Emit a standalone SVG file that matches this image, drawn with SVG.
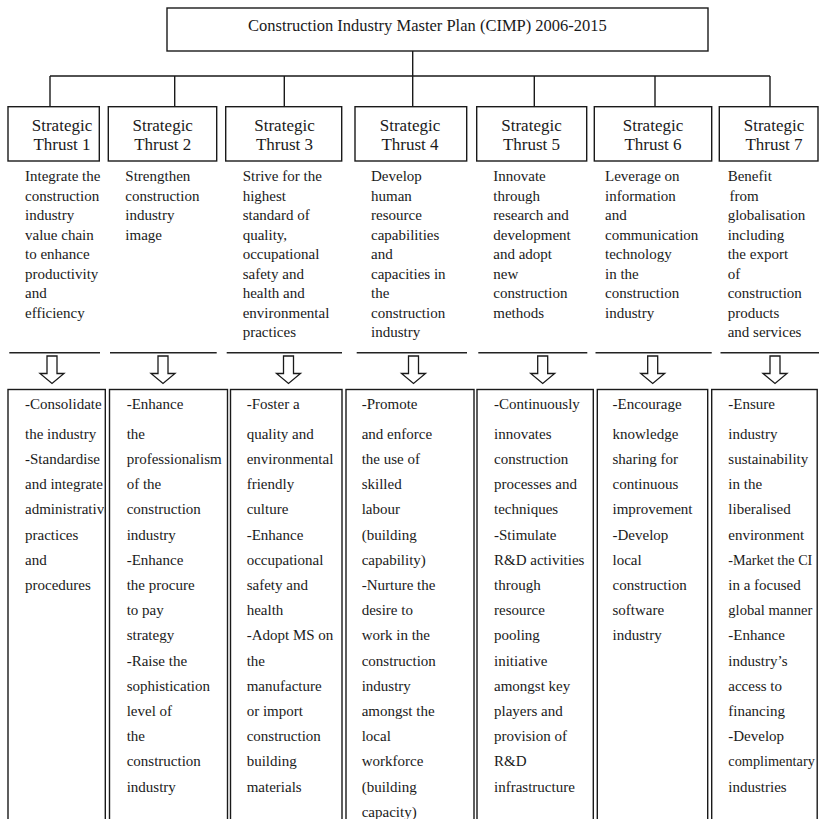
<svg xmlns="http://www.w3.org/2000/svg" width="819" height="819" viewBox="0 0 819 819">
<style>
.box{fill:#fff;stroke:#1a1a1a;stroke-width:1.4}
.ln{fill:none;stroke:#1a1a1a;stroke-width:1.4}
.sep{fill:none;stroke:#222;stroke-width:1.6}
.arr{fill:#fff;stroke:#1a1a1a;stroke-width:1.3}
text{font-family:"Liberation Serif","Times New Roman",serif;fill:#1a1a1a}
.t{font-size:16.5px}
.h{font-size:17px;text-anchor:middle}
.d{font-size:15px}
</style>
<defs>
<path id="ar" d="M-5,356 H5 V373.5 H12 L0,383.5 L-12,373.5 H-5 Z"/>
<clipPath id="c1"><rect x="8" y="389" width="96.5" height="440"/></clipPath>
</defs>
<rect width="819" height="819" fill="#fff"/>

<g id="connectors">
<path class="ln" d="M412.7,51 V107 M50,76 H770 M50,76 V107 M174.7,76 V107 M284.3,76 V107 M534.3,76 V107 M655,76 V107 M770,76 V107"/>
<path class="sep" d="M9.3,352.7 H100 M110,352.7 H216.7 M226.7,352.7 H342 M356.7,352.7 H467 M478.3,352.7 H587.3 M595.5,352.7 H711.7 M720.5,352.7 H819"/>
<use href="#ar" class="arr" x="52"/>
<use href="#ar" class="arr" x="163"/>
<use href="#ar" class="arr" x="288.5"/>
<use href="#ar" class="arr" x="413.5"/>
<use href="#ar" class="arr" x="542.7"/>
<use href="#ar" class="arr" x="652.7"/>
<use href="#ar" class="arr" x="775"/>
</g>

<g id="title">
<rect class="box" x="167" y="8" width="541" height="43"/>
<text class="t" x="248" y="31">Construction Industry Master Plan (CIMP) 2006-2015</text>
</g>

<g id="thrust1">
<rect class="box" x="8" y="106.7" width="91.3" height="54.3"/>
<text class="h" x="62" y="131">Strategic</text>
<text class="h" x="62" y="149.5">Thrust 1</text>
<text class="d" x="25"><tspan x="25" y="181">Integrate the</tspan><tspan x="25" y="200.5">construction</tspan><tspan x="25" y="220">industry</tspan><tspan x="25" y="239.5">value chain</tspan><tspan x="25" y="259">to enhance</tspan><tspan x="25" y="278.5">productivity</tspan><tspan x="25" y="298">and</tspan><tspan x="25" y="317.5">efficiency</tspan></text>
</g>
<g id="thrust2">
<rect class="box" x="108.3" y="106.7" width="108.4" height="54.3"/>
<text class="h" x="162.7" y="131">Strategic</text>
<text class="h" x="162.7" y="149.5">Thrust 2</text>
<text class="d"><tspan x="125.3" y="181">Strengthen</tspan><tspan x="125.3" y="200.5">construction</tspan><tspan x="125.3" y="220">industry</tspan><tspan x="125.3" y="239.5">image</tspan></text>
</g>
<g id="thrust3">
<rect class="box" x="225.7" y="106.7" width="116" height="54.3"/>
<text class="h" x="284.5" y="131">Strategic</text>
<text class="h" x="284.5" y="149.5">Thrust 3</text>
<text class="d"><tspan x="242.7" y="181">Strive for the</tspan><tspan x="242.7" y="200.5">highest</tspan><tspan x="242.7" y="220">standard of</tspan><tspan x="242.7" y="239.5">quality,</tspan><tspan x="242.7" y="259">occupational</tspan><tspan x="242.7" y="278.5">safety and</tspan><tspan x="242.7" y="298">health and</tspan><tspan x="242.7" y="317.5">environmental</tspan><tspan x="242.7" y="337">practices</tspan></text>
</g>
<g id="thrust4">
<rect class="box" x="355" y="106.7" width="111.7" height="54.3"/>
<text class="h" x="410" y="131">Strategic</text>
<text class="h" x="410" y="149.5">Thrust 4</text>
<text class="d"><tspan x="371" y="181">Develop</tspan><tspan x="371" y="200.5">human</tspan><tspan x="371" y="220">resource</tspan><tspan x="371" y="239.5">capabilities</tspan><tspan x="371" y="259">and</tspan><tspan x="371" y="278.5">capacities in</tspan><tspan x="371" y="298">the</tspan><tspan x="371" y="317.5">construction</tspan><tspan x="371" y="337">industry</tspan></text>
</g>
<g id="thrust5">
<rect class="box" x="476.7" y="106.7" width="110" height="54.3"/>
<text class="h" x="531.5" y="131">Strategic</text>
<text class="h" x="531.5" y="149.5">Thrust 5</text>
<text class="d"><tspan x="493.3" y="181">Innovate</tspan><tspan x="493.3" y="200.5">through</tspan><tspan x="493.3" y="220">research and</tspan><tspan x="493.3" y="239.5">development</tspan><tspan x="493.3" y="259">and adopt</tspan><tspan x="493.3" y="278.5">new</tspan><tspan x="493.3" y="298">construction</tspan><tspan x="493.3" y="317.5">methods</tspan></text>
</g>
<g id="thrust6">
<rect class="box" x="594.3" y="106.7" width="117.4" height="54.3"/>
<text class="h" x="653" y="131">Strategic</text>
<text class="h" x="653" y="149.5">Thrust 6</text>
<text class="d"><tspan x="605" y="181">Leverage on</tspan><tspan x="605" y="200.5">information</tspan><tspan x="605" y="220">and</tspan><tspan x="605" y="239.5">communication</tspan><tspan x="605" y="259">technology</tspan><tspan x="605" y="278.5">in the</tspan><tspan x="605" y="298">construction</tspan><tspan x="605" y="317.5">industry</tspan></text>
</g>
<g id="thrust7">
<rect class="box" x="719.3" y="106.7" width="98.7" height="54.3"/>
<text class="h" x="774" y="131">Strategic</text>
<text class="h" x="774" y="149.5">Thrust 7</text>
<text class="d"><tspan x="727.7" y="181">Benefit</tspan><tspan x="729.5" y="200.5">from</tspan><tspan x="727.7" y="220">globalisation</tspan><tspan x="727.7" y="239.5">including</tspan><tspan x="727.7" y="259">the export</tspan><tspan x="727.7" y="278.5">of</tspan><tspan x="727.7" y="298">construction</tspan><tspan x="727.7" y="317.5">products</tspan><tspan x="727.7" y="337">and services</tspan></text>
</g>

<g id="detail1">
<rect class="box" x="8" y="389.5" width="97.3" height="440"/>
<text class="d" clip-path="url(#c1)"><tspan x="25" y="408.5">-Consolidate</tspan><tspan x="25" y="439">the industry</tspan><tspan x="25" y="464">-Standardise</tspan><tspan x="25" y="489.2">and integrate</tspan><tspan x="25" y="514.4">administrative</tspan><tspan x="25" y="539.6">practices</tspan><tspan x="25" y="564.8">and</tspan><tspan x="25" y="590">procedures</tspan></text>
</g>
<g id="detail2">
<rect class="box" x="109.5" y="389.5" width="118" height="440"/>
<text class="d"><tspan x="126.7" y="408.5">-Enhance</tspan><tspan x="126.7" y="439">the</tspan><tspan x="126.7" y="464">professionalism</tspan><tspan x="126.7" y="489.2">of the</tspan><tspan x="126.7" y="514.4">construction</tspan><tspan x="126.7" y="539.6">industry</tspan><tspan x="126.7" y="564.8">-Enhance</tspan><tspan x="126.7" y="590">the procure</tspan><tspan x="126.7" y="615.2">to pay</tspan><tspan x="126.7" y="640.4">strategy</tspan><tspan x="126.7" y="665.6">-Raise the</tspan><tspan x="126.7" y="690.8">sophistication</tspan><tspan x="126.7" y="716">level of</tspan><tspan x="126.7" y="741.2">the</tspan><tspan x="126.7" y="766.4">construction</tspan><tspan x="126.7" y="791.6">industry</tspan></text>
</g>
<g id="detail3">
<rect class="box" x="230.5" y="389.5" width="111.5" height="440"/>
<text class="d"><tspan x="246.7" y="408.5">-Foster a</tspan><tspan x="246.7" y="439">quality and</tspan><tspan x="246.7" y="464">environmental</tspan><tspan x="246.7" y="489.2">friendly</tspan><tspan x="246.7" y="514.4">culture</tspan><tspan x="246.7" y="539.6">-Enhance</tspan><tspan x="246.7" y="564.8">occupational</tspan><tspan x="246.7" y="590">safety and</tspan><tspan x="246.7" y="615.2">health</tspan><tspan x="246.7" y="640.4">-Adopt MS on</tspan><tspan x="246.7" y="665.6">the</tspan><tspan x="246.7" y="690.8">manufacture</tspan><tspan x="246.7" y="716">or import</tspan><tspan x="246.7" y="741.2">construction</tspan><tspan x="246.7" y="766.4">building</tspan><tspan x="246.7" y="791.6">materials</tspan></text>
</g>
<g id="detail4">
<rect class="box" x="346" y="389.5" width="128" height="440"/>
<text class="d"><tspan x="361.7" y="408.5">-Promote</tspan><tspan x="361.7" y="439">and enforce</tspan><tspan x="361.7" y="464">the use of</tspan><tspan x="361.7" y="489.2">skilled</tspan><tspan x="361.7" y="514.4">labour</tspan><tspan x="361.7" y="539.6">(building</tspan><tspan x="361.7" y="564.8">capability)</tspan><tspan x="361.7" y="590">-Nurture the</tspan><tspan x="361.7" y="615.2">desire to</tspan><tspan x="361.7" y="640.4">work in the</tspan><tspan x="361.7" y="665.6">construction</tspan><tspan x="361.7" y="690.8">industry</tspan><tspan x="361.7" y="716">amongst the</tspan><tspan x="361.7" y="741.2">local</tspan><tspan x="361.7" y="766.4">workforce</tspan><tspan x="361.7" y="791.6">(building</tspan><tspan x="361.7" y="816.8">capacity)</tspan></text>
</g>
<g id="detail5">
<rect class="box" x="477" y="389.5" width="116.3" height="440"/>
<text class="d"><tspan x="494" y="408.5">-Continuously</tspan><tspan x="494" y="439">innovates</tspan><tspan x="494" y="464">construction</tspan><tspan x="494" y="489.2">processes and</tspan><tspan x="494" y="514.4">techniques</tspan><tspan x="494" y="539.6">-Stimulate</tspan><tspan x="494" y="564.8">R&amp;D activities</tspan><tspan x="494" y="590">through</tspan><tspan x="494" y="615.2">resource</tspan><tspan x="494" y="640.4">pooling</tspan><tspan x="494" y="665.6">initiative</tspan><tspan x="494" y="690.8">amongst key</tspan><tspan x="494" y="716">players and</tspan><tspan x="494" y="741.2">provision of</tspan><tspan x="494" y="766.4">R&amp;D</tspan><tspan x="494" y="791.6">infrastructure</tspan></text>
</g>
<g id="detail6">
<rect class="box" x="597.3" y="389.5" width="110.4" height="440"/>
<text class="d"><tspan x="612.5" y="408.5">-Encourage</tspan><tspan x="612.5" y="439">knowledge</tspan><tspan x="612.5" y="464">sharing for</tspan><tspan x="612.5" y="489.2">continuous</tspan><tspan x="612.5" y="514.4">improvement</tspan><tspan x="612.5" y="539.6">-Develop</tspan><tspan x="612.5" y="564.8">local</tspan><tspan x="612.5" y="590">construction</tspan><tspan x="612.5" y="615.2">software</tspan><tspan x="612.5" y="640.4">industry</tspan></text>
</g>
<g id="detail7">
<rect class="box" x="711.7" y="389.5" width="105.5" height="440"/>
<text class="d"><tspan x="728.3" y="408.5">-Ensure</tspan><tspan x="728.3" y="439">industry</tspan><tspan x="728.3" y="464">sustainability</tspan><tspan x="728.3" y="489.2">in the</tspan><tspan x="728.3" y="514.4">liberalised</tspan><tspan x="728.3" y="539.6">environment</tspan></text>
<text class="d" x="728.3" y="564.8" textLength="84" lengthAdjust="spacingAndGlyphs">-Market the CI</text>
<text class="d"><tspan x="728.3" y="590">in a focused</tspan></text>
<text class="d" x="728.3" y="615.2" textLength="84" lengthAdjust="spacingAndGlyphs">global manner</text>
<text class="d"><tspan x="728.3" y="640.4">-Enhance</tspan><tspan x="728.3" y="665.6">industry’s</tspan><tspan x="728.3" y="690.8">access to</tspan><tspan x="728.3" y="716">financing</tspan><tspan x="728.3" y="741.2">-Develop</tspan></text>
<text class="d" x="728.3" y="766.4" textLength="86.5" lengthAdjust="spacingAndGlyphs">complimentary</text>
<text class="d"><tspan x="728.3" y="791.6">industries</tspan></text>
</g>
</svg>
